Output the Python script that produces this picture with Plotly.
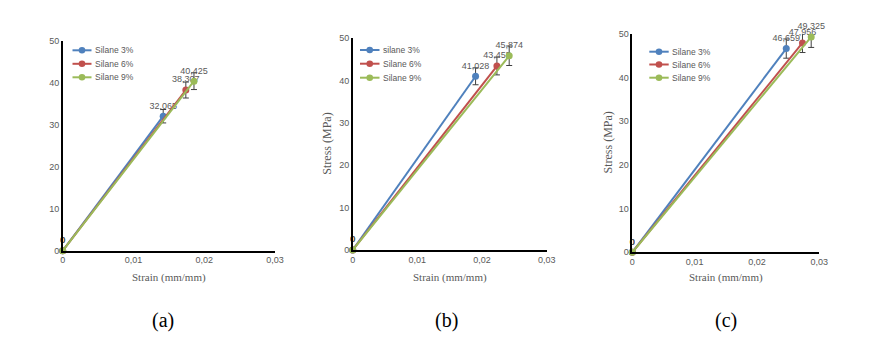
import plotly.graph_objects as go

# ---- data ----
series_names_a = ["Silane 3%", "Silane 6%", "Silane 9%"]
series_names_b = ["silane 3%", "Silane 6%", "Silane 9%"]
series_names_c = ["Silane 3%", "Silane 6%", "Silane 9%"]

strain_a = [[0, 0.0142], [0, 0.0174], [0, 0.01855]]
stress_a = [[0, 32.065], [0, 38.307], [0, 40.425]]
err_a = [[0, 1.6], [0, 1.9], [0, 2.0]]

strain_b = [[0, 0.0190], [0, 0.0223], [0, 0.0242]]
stress_b = [[0, 41.028], [0, 43.455], [0, 45.874]]
err_b = [[0, 2.0], [0, 2.1], [0, 2.3]]

strain_c = [[0, 0.0247], [0, 0.0273], [0, 0.0287]]
stress_c = [[0, 46.659], [0, 47.956], [0, 49.325]]
err_c = [[0, 2.2], [0, 2.2], [0, 2.4]]

x_ticks = [0, 0.01, 0.02, 0.03]
x_ticktext = ["0", "0,01", "0,02", "0,03"]
y_ticks = [0, 10, 20, 30, 40, 50]
panel_labels = ["(a)", "(b)", "(c)"]

colors = ["#4F81BD", "#C0504D", "#9BBB59"]
W, H = 869, 347

def fmt(v):
    if v == 0:
        return "0"
    return f"{v:.3f}".replace(".", ",")

fig = go.Figure()

panels = [
    (series_names_a, strain_a, stress_a, err_a, "x", "y"),
    (series_names_b, strain_b, stress_b, err_b, "x2", "y2"),
    (series_names_c, strain_c, stress_c, err_c, "x3", "y3"),
]

for names, xs, ys, es, xa, ya in panels:
    for i in range(3):
        fig.add_trace(go.Scatter(
            x=xs[i], y=ys[i], name=names[i], xaxis=xa, yaxis=ya,
            mode="lines+markers+text",
            text=[fmt(v) for v in ys[i]],
            textposition="top center",
            textfont=dict(family="Liberation Sans", size=9, color="#595959"),
            line=dict(color=colors[i], width=2),
            marker=dict(color=colors[i], size=7),
            error_y=dict(type="data", array=es[i], color="#404040", thickness=1, width=3),
            cliponaxis=False, showlegend=False,
        ))

def px_x(p):
    return p / W

def px_y(p):
    return (H - p) / H

doms = [
    ((62.7, 275.0), (250.7, 41.0)),
    ((352.7, 546.7), (250.0, 38.3)),
    ((632.3, 819.3), (252.3, 34.0)),
]

axis_common_x = dict(range=[0, 0.03], tickvals=x_ticks, ticktext=x_ticktext, showgrid=False,
                     zeroline=False, showline=True, linecolor="#000000", linewidth=1.5,
                     ticks="", automargin=False,
                     tickfont=dict(family="Liberation Sans", size=9, color="#595959"))
axis_common_y = dict(range=[0, 50], tickvals=y_ticks, showgrid=False, zeroline=False,
                     showline=True, linecolor="#000000", linewidth=1.5, ticks="",
                     automargin=False,
                     tickfont=dict(family="Liberation Sans", size=9, color="#595959"))

layout_axes = {}
for k, ((x0, x1), (yb, yt)) in enumerate(doms):
    sx = "" if k == 0 else str(k + 1)
    layout_axes["xaxis" + sx] = dict(axis_common_x, domain=[px_x(x0), px_x(x1)],
                                     anchor="y" + sx)
    layout_axes["yaxis" + sx] = dict(axis_common_y, domain=[px_y(yb), px_y(yt)],
                                     anchor="x" + sx)
fig.update_layout(**layout_axes)

# ---- legends (drawn in paper space, Excel-like compact layout) ----
legend_geom = [
    (72.5, 91.5, 93.0, [50.3, 63.8, 77.3]),
    (360.0, 379.5, 381.0, [50.0, 63.7, 77.7]),
    (649.3, 668.7, 670.3, [51.7, 64.5, 77.7]),
]
legend_names = [series_names_a, series_names_b, series_names_c]
shapes = []
annotations = []
for (lx0, lx1, tx, rows), names in zip(legend_geom, legend_names):
    for i, ry in enumerate(rows):
        shapes.append(dict(type="line", xref="paper", yref="paper",
                           x0=px_x(lx0), x1=px_x(lx1), y0=px_y(ry), y1=px_y(ry),
                           line=dict(color=colors[i], width=2)))
        mx = (lx0 + lx1) / 2
        r = 3.3
        shapes.append(dict(type="circle", xref="paper", yref="paper",
                           x0=px_x(mx - r), x1=px_x(mx + r), y0=px_y(ry + r), y1=px_y(ry - r),
                           fillcolor=colors[i], line=dict(color=colors[i], width=0)))
        annotations.append(dict(text=names[i], x=px_x(tx), y=px_y(ry), xref="paper", yref="paper",
                                showarrow=False, xanchor="left", yanchor="middle",
                                font=dict(family="Liberation Sans", size=8.5, color="#595959")))

centers_x = [169, 449.7, 725.8]
for cx in centers_x:
    annotations.append(dict(text="Strain (mm/mm)", x=px_x(cx), y=px_y(277.3), xref="paper", yref="paper",
                            showarrow=False, xanchor="center", yanchor="middle",
                            font=dict(family="Liberation Serif", size=11, color="#595959")))
label_x = [162.7, 446, 726]
for k, cx in enumerate(label_x):
    annotations.append(dict(text=panel_labels[k], x=px_x(cx), y=px_y(320), xref="paper", yref="paper",
                            showarrow=False, xanchor="center", yanchor="middle",
                            font=dict(family="Liberation Serif", size=20, color="#000000")))
for cx, cy in [(326.7, 144), (607.5, 143)]:
    annotations.append(dict(text="Stress (MPa)", x=px_x(cx), y=px_y(cy), xref="paper", yref="paper",
                            showarrow=False, textangle=-90, xanchor="center", yanchor="middle",
                            font=dict(family="Liberation Serif", size=12, color="#595959")))

fig.update_layout(
    width=W, height=H, margin=dict(l=0, r=0, t=0, b=0),
    paper_bgcolor="white", plot_bgcolor="white",
    separators=",.", showlegend=False, annotations=annotations, shapes=shapes,
)

fig.write_html("out.html", config={"displayModeBar": False},
               post_script="document.body.style.margin='0';document.body.style.overflow='hidden';")
